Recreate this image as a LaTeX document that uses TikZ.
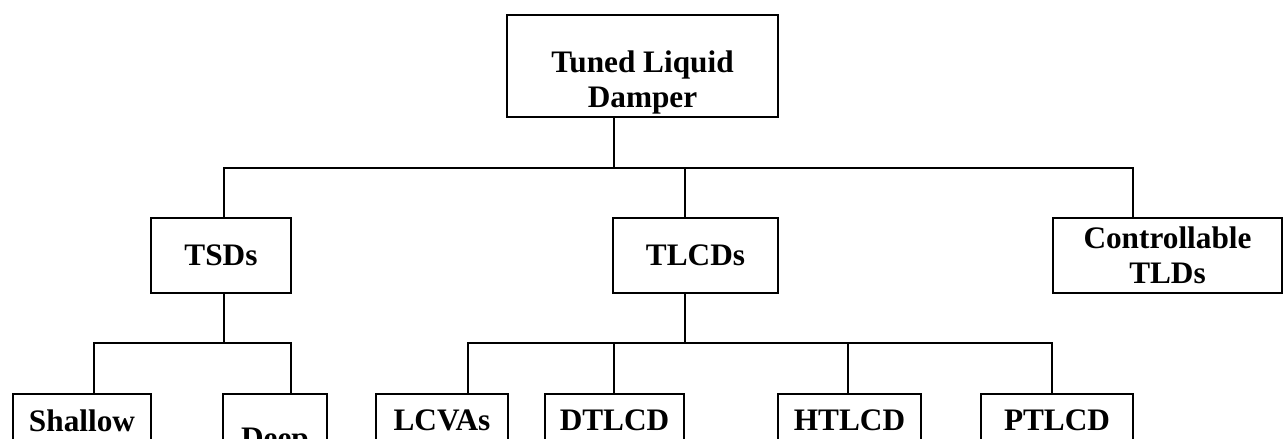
\documentclass[tikz,border=0pt]{standalone}
\usepackage{fontspec}
\setmainfont{Liberation Serif}
\usepackage{tikz}
\usetikzlibrary{positioning,calc}

\begin{document}
\begin{tikzpicture}[
  box/.style={rectangle, draw=black, line width=1.1pt, inner sep=1pt,
              font=\bfseries\fontsize{17.8}{20}\selectfont, align=center,
              minimum width=#1, minimum height=1.5cm},
  ln/.style={line width=1.1pt},
]
\useasboundingbox (0,0) rectangle (25.68,-8.78);
\clip (0,0) rectangle (25.68,-8.78);

\node[box=5.42cm, minimum height=2.04cm] (tld) at (12.85,-1.32)
  {\rule{0pt}{1.1cm}Tuned Liquid\\Damper};

\node[box=2.8cm,  below=1.98cm of tld, xshift=-8.43cm] (tsd)  {TSDs};
\node[box=3.3cm,  below=1.98cm of tld, xshift= 1.06cm] (tlcd) {TLCDs};
\node[box=4.58cm, below=1.98cm of tld, xshift=10.5cm]  (ctl)  {Controllable\\TLDs};

\node[box=2.76cm, minimum height=1.06cm, below=1.98cm of tsd, xshift=-2.78cm] (sh) {Shallow};
\node[box=2.08cm, minimum height=1.91cm, below=1.98cm of tsd, xshift= 1.08cm] (dp) {Deep};

\node[box=2.64cm, minimum height=1.06cm, below=1.98cm of tlcd, xshift=-5.07cm] (lcva) {LCVAs};
\node[box=2.78cm, minimum height=1.06cm, below=1.98cm of tlcd, xshift=-1.62cm] (dtl)  {DTLCD};
\node[box=2.86cm, minimum height=1.06cm, below=1.98cm of tlcd, xshift= 3.08cm] (htl)  {HTLCD};
\node[box=3.04cm, minimum height=1.06cm, below=1.98cm of tlcd, xshift= 7.23cm] (ptl)  {PTLCD};

% bus lines
\coordinate (b0) at ($(tld.south)+(-0.57,-1.0)$);
\draw[ln] (tld.south -| b0) -- (b0);
\foreach \n/\dx in {tsd/0.06, tlcd/-0.21, ctl/-0.69}
  \draw[ln] ([xshift=\dx cm]\n.north) |- (b0);

\coordinate (b1) at ($(tsd.south)+(0.06,-0.98)$);
\draw[ln] (tsd.south -| b1) -- (b1);
\foreach \n/\dx in {sh/0.24, dp/0.32}
  \draw[ln] ([xshift=\dx cm]\n.north) |- (b1);

\coordinate (b2) at ($(tlcd.south)+(-0.21,-0.98)$);
\draw[ln] (tlcd.south -| b2) -- (b2);
\foreach \n/\dx in {lcva/0.52, dtl/-0.01, htl/-0.03, ptl/-0.10}
  \draw[ln] ([xshift=\dx cm]\n.north) |- (b2);

\end{tikzpicture}
\end{document}
